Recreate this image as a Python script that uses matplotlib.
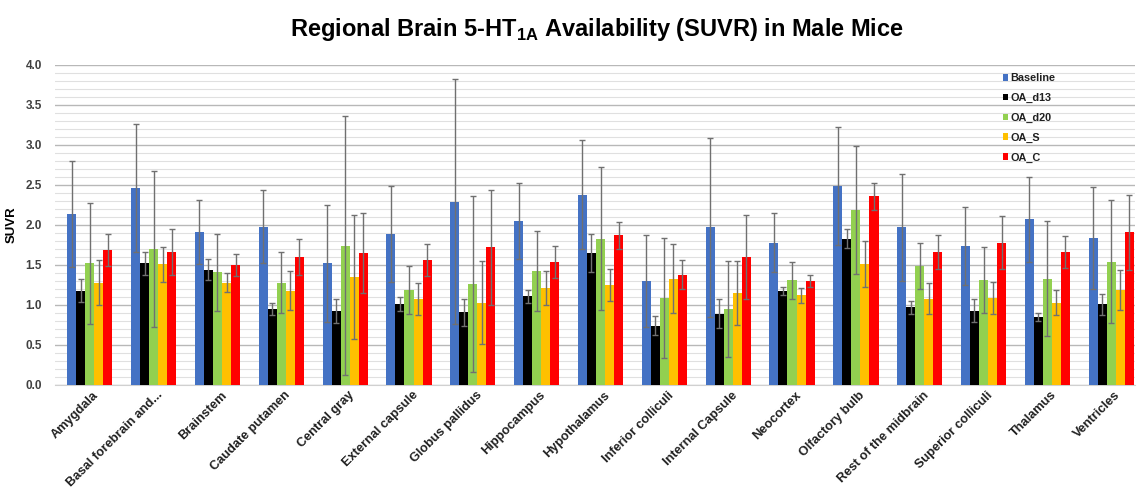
import numpy as np
import matplotlib
matplotlib.use("Agg")
import matplotlib.pyplot as plt
import matplotlib.transforms as mtransforms
from matplotlib.ticker import MultipleLocator

regions = ["Amygdala", "Basal forebrain and...", "Brainstem", "Caudate putamen",
           "Central gray", "External capsule", "Globus pallidus", "Hippocampus",
           "Hypothalamus", "Inferior colliculi", "Internal Capsule", "Neocortex",
           "Olfactory bulb", "Rest of the midbrain", "Superior colliculi",
           "Thalamus", "Ventricles"]
groups = ["Baseline", "OA_d13", "OA_d20", "OA_S", "OA_C"]

baseline = [2.14, 2.46, 1.91, 1.98, 1.52, 1.89, 2.29, 2.05, 2.38, 1.30, 1.97, 1.78, 2.49, 1.97, 1.74, 2.07, 1.84]
baseline_err = [0.66, 0.80, 0.40, 0.46, 0.73, 0.60, 1.53, 0.48, 0.68, 0.57, 1.12, 0.37, 0.74, 0.67, 0.49, 0.53, 0.64]
oa_d13 = [1.18, 1.52, 1.44, 0.95, 0.93, 1.01, 0.91, 1.11, 1.65, 0.74, 0.89, 1.18, 1.83, 0.97, 0.93, 0.85, 1.01]
oa_d13_err = [0.14, 0.14, 0.13, 0.07, 0.15, 0.09, 0.17, 0.08, 0.24, 0.12, 0.18, 0.05, 0.12, 0.08, 0.14, 0.05, 0.13]
oa_d20 = [1.52, 1.70, 1.41, 1.28, 1.74, 1.19, 1.26, 1.42, 1.83, 1.09, 0.95, 1.31, 2.19, 1.49, 1.31, 1.33, 1.54]
oa_d20_err = [0.76, 0.98, 0.48, 0.38, 1.62, 0.30, 1.10, 0.50, 0.89, 0.75, 0.60, 0.23, 0.80, 0.29, 0.41, 0.72, 0.77]
oa_s = [1.28, 1.51, 1.28, 1.18, 1.35, 1.08, 1.03, 1.21, 1.25, 1.33, 1.15, 1.12, 1.51, 1.08, 1.09, 1.03, 1.19]
oa_s_err = [0.28, 0.22, 0.12, 0.24, 0.78, 0.20, 0.52, 0.21, 0.20, 0.43, 0.40, 0.09, 0.29, 0.19, 0.20, 0.16, 0.25]
oa_c = [1.69, 1.66, 1.50, 1.60, 1.65, 1.56, 1.72, 1.54, 1.87, 1.38, 1.60, 1.30, 2.36, 1.66, 1.78, 1.66, 1.91]
oa_c_err = [0.20, 0.29, 0.14, 0.22, 0.50, 0.20, 0.72, 0.20, 0.17, 0.18, 0.53, 0.08, 0.17, 0.21, 0.33, 0.20, 0.47]

values = [baseline, oa_d13, oa_d20, oa_s, oa_c]
errors = [baseline_err, oa_d13_err, oa_d20_err, oa_s_err, oa_c_err]
colors = ["#4472C4", "#000000", "#92D050", "#FFC000", "#FF0000"]

plt.rcParams["font.family"] = ["Liberation Sans", "DejaVu Sans"]
plt.rcParams["mathtext.fontset"] = "custom"
plt.rcParams["mathtext.rm"] = "Liberation Sans:bold"
plt.rcParams["mathtext.bf"] = "Liberation Sans:bold"

fig = plt.figure(figsize=(11.4, 4.96), dpi=100)
ax = fig.add_axes([0.048, 0.224, 0.948, 0.645])

x = np.arange(len(regions))
w = 0.142
for i, (vals, errs, c, g) in enumerate(zip(values, errors, colors, groups)):
    pos = x + (i - 2) * w
    ax.bar(pos, vals, width=w, color=c, label=g, zorder=3)
    ax.errorbar(pos, vals, yerr=errs, fmt="none", ecolor="#707070", elinewidth=1,
                capsize=2.5, capthick=1, zorder=4)

ax.set_ylim(0, 4.0)
ax.set_xlim(-0.55, 16.38)
ax.yaxis.set_major_locator(MultipleLocator(0.5))
ax.yaxis.set_minor_locator(MultipleLocator(0.1))
ax.grid(which="major", axis="y", color="#b8b8b8", linewidth=1.0, zorder=0)
ax.grid(which="minor", axis="y", color="#e0e0e0", linewidth=0.8, zorder=0)
ax.set_yticks(np.arange(0, 4.01, 0.5))
ax.set_yticklabels([f"{v:.1f}" for v in np.arange(0, 4.01, 0.5)], fontsize=8.5,
                   fontweight="bold", color="#404040")
ax.tick_params(axis="y", which="both", length=0, pad=9)
ax.tick_params(axis="x", length=0, pad=3)
for s in ["top", "right", "left"]:
    ax.spines[s].set_visible(False)
ax.spines["bottom"].set_color("#d0d0d0")

ax.set_xticks(x)
ax.set_xticklabels(regions, rotation=45, ha="right", rotation_mode="anchor",
                   fontsize=9.2, fontweight="bold", color="#202020")
offset = mtransforms.ScaledTranslation(3 / 100, 0, fig.dpi_scale_trans)
for lab in ax.get_xticklabels():
    lab.set_transform(lab.get_transform() + offset)

ax.set_ylabel("SUVR", fontsize=9.5, fontweight="bold", labelpad=6)

leg = ax.legend(loc="upper left", bbox_to_anchor=(0.868, 1.005), frameon=False,
                handlelength=0.55, handleheight=0.55, handletextpad=0.15,
                labelspacing=0.9, fontsize=7.8)
for t in leg.get_texts():
    t.set_fontweight("bold")
    t.set_color("#202020")

fig.text(0.524, 0.94, r"Regional Brain 5-HT$_{\mathbf{1A}}$ Availability (SUVR) in Male Mice",
         ha="center", va="center", fontsize=17, fontweight="bold")

fig.savefig("out.png", dpi=100, facecolor="white")
